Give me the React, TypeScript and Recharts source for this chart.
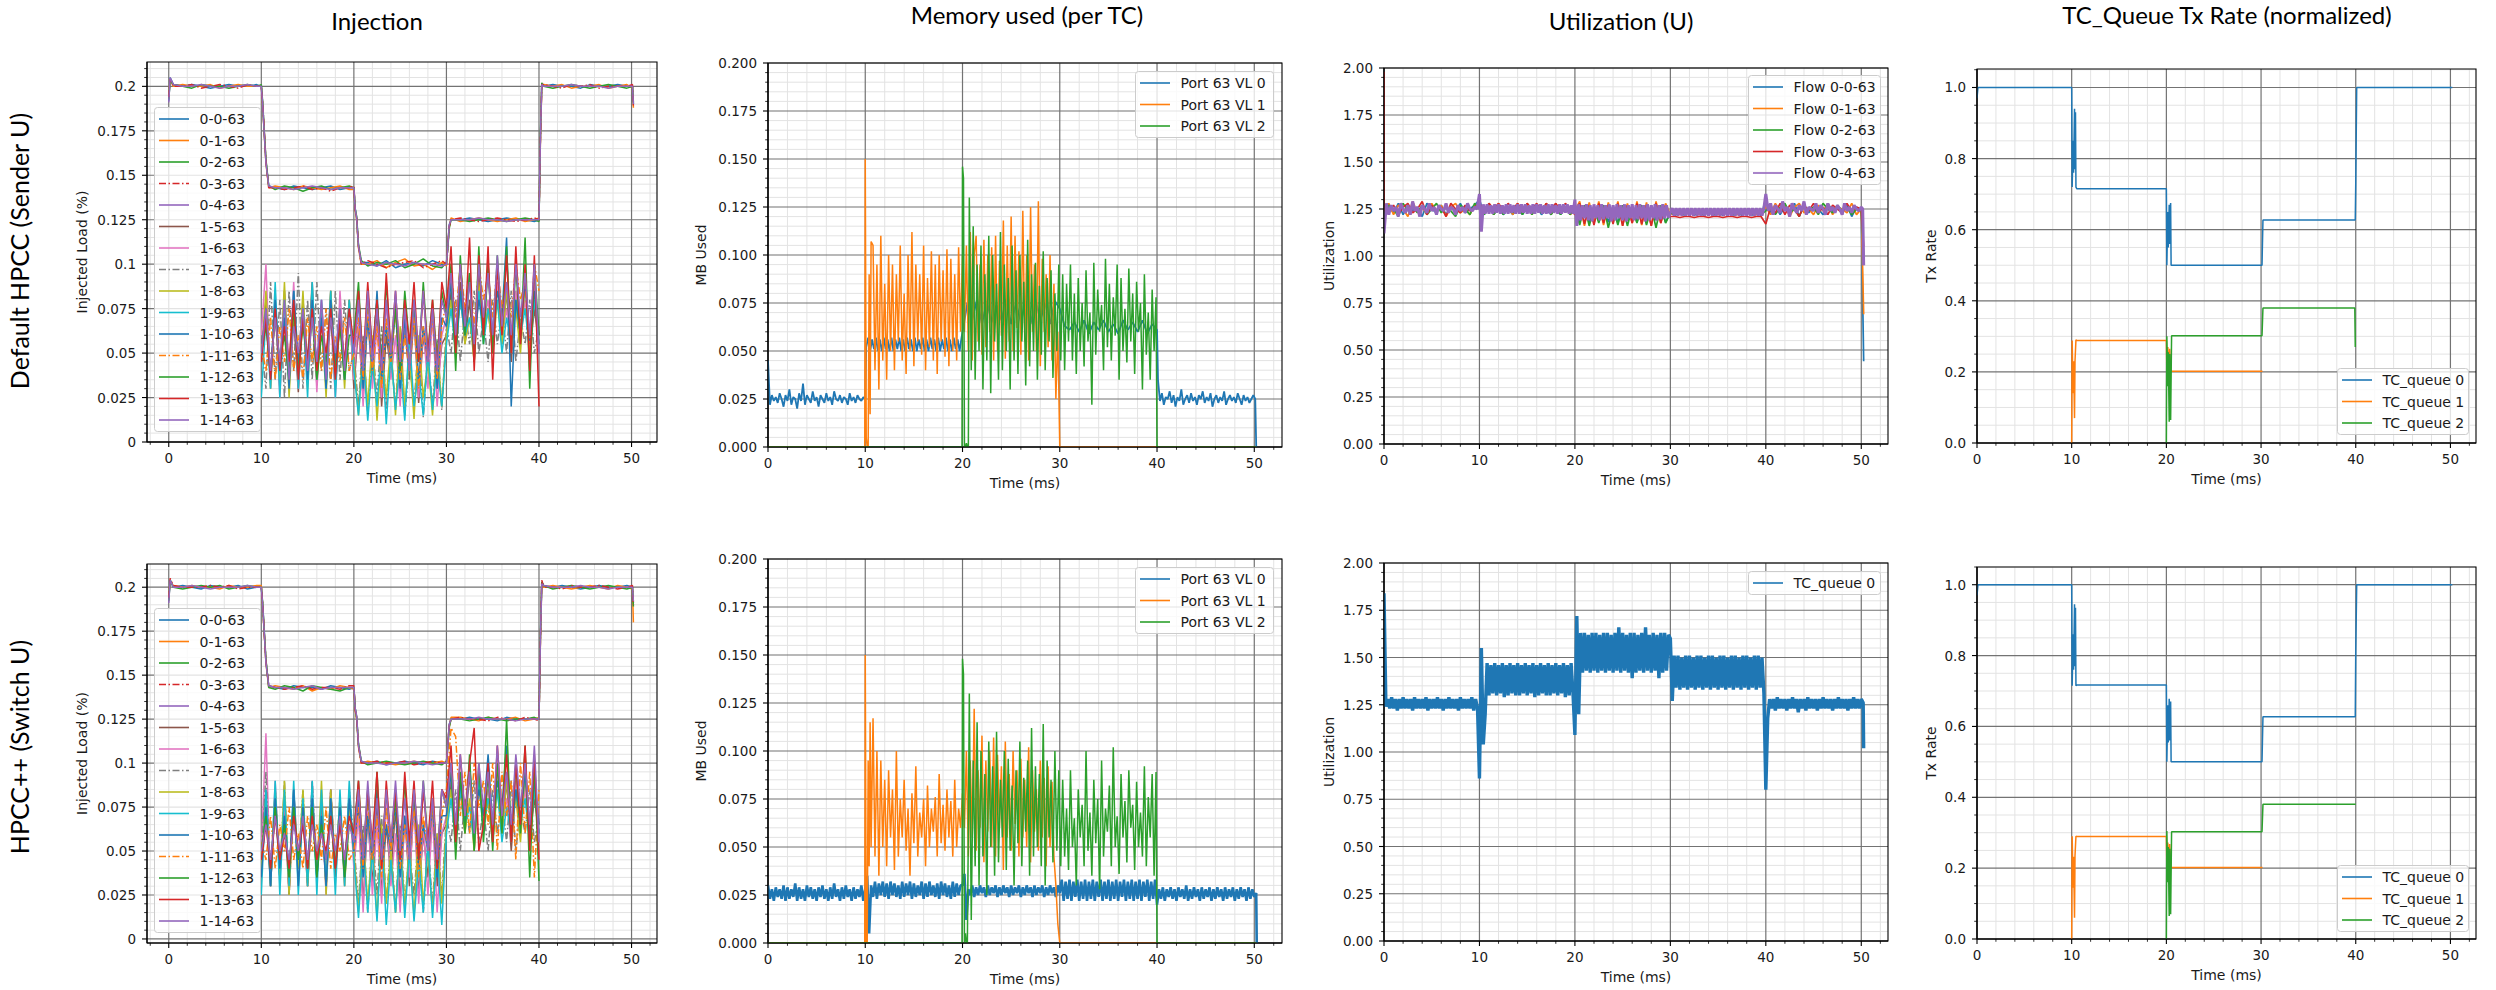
import React from 'react';
import { LineChart, Line, XAxis, YAxis, CartesianGrid, ReferenceArea, Legend } from 'recharts';

// matplotlib "tab10" colours
const C = {
  blue: '#1f77b4', orange: '#ff7f0e', green: '#2ca02c', red: '#d62728', purple: '#9467bd',
  brown: '#8c564b', pink: '#e377c2', gray: '#7f7f7f', olive: '#bcbd22', cyan: '#17becf',
};
const DASHDOT = '7 2.5 1.5 2.5';

// ---------------------------------------------------------------------------
// Injection (injected load, in units of 0.001)
// ---------------------------------------------------------------------------
const STEP_T = [0, 0.15, 0.5, 1.5, 2.5, 3.5, 4.5, 5.5, 6.5, 7.5, 8.5, 9.5, 10, 10.15, 10.3, 10.5, 10.8, 11.5, 12.5, 13.5, 14.5, 15.5, 16.5, 17.5, 18.5, 19.5, 20, 20.15, 20.3, 20.5, 20.8, 21.5, 22.5, 23.5, 24.5, 25.5, 26.5, 27.5, 28.5, 29.5, 30, 30.15, 30.3, 30.5, 31.5, 32.5, 33.5, 34.5, 35.5, 36.5, 37.5, 38.5, 39.5, 40, 40.15, 40.3, 40.5, 41.5, 42.5, 43.5, 44.5, 45.5, 46.5, 47.5, 48.5, 49.5, 50.1, 50.2];

// Sender-U run: flows 0-0 .. 0-4
const injS00 = [192,205,201,200,201,200,199,200,201,200,200,201, 200,190,176,158,144, 143,142,144,143,142,143,144,142,143, 143,131,126,110,101, 101,99,102,98,100,101,99,102,100, 100,110,122,125, 125,126,125,124,125,126,125,125,124, 125,170,201,200, 201,200,200,199,201,200,200,201,200, 200,190];
const injS01 = [195,204,200,201,200,200,201,199,200,201,200,200, 200,189,175,157,143, 144,143,142,144,143,142,143,144,142, 142,130,125,109,100, 100,102,98,101,103,99,100,97,101, 99,111,121,126, 124,125,126,125,124,125,126,124,125, 126,168,200,201, 200,201,199,200,200,201,199,200,201, 199,188];
const injS02 = [193,203,201,200,199,201,200,200,199,200,201,200, 201,191,176,159,144, 142,144,143,141,143,144,142,143,144, 143,131,127,111,102, 99,101,100,102,98,100,103,99,98, 101,109,120,125, 125,124,125,126,125,124,125,126,125, 124,172,202,200, 199,200,201,200,199,200,201,200,199, 200,191];
const injS03 = [194,204,200,200,201,199,200,201,200,199,201,200, 200,190,177,158,143, 143,142,143,144,142,143,141,143,143, 144,130,126,110,100, 102,100,98,100,101,102,98,100,102, 100,110,121,125, 126,125,124,125,126,125,124,125,126, 125,169,201,201, 200,199,201,200,201,199,200,200,200, 201,189];
const injS04 = [191,205,201,200,200,201,200,199,200,200,201,200, 200,190,175,157,144, 143,143,142,143,144,143,142,143,143, 143,131,126,110,101, 100,99,101,100,99,101,100,100,99, 100,110,122,125, 125,125,126,125,125,124,125,125,125, 125,170,201,200, 200,200,201,200,200,200,199,200,200, 200,190];
// Sender-U run: flows 1-5 .. 1-14, sampled every 0.5 ms from 10 ms to 40 ms
const injS15 = [50,80,35,75,30,85,40,70,28,80,45,90,32,75,40,85,30,70,45,80, 30,65,25,70,35,75,20,60,40,80,28,65,35,70,22,60,40,75,30,55, 60,85,50,90,55,80,45,95,60,75,50,90,55,85,45,80,60,95,50,75,55];
const injS16 = [60,100,30,85,25,80,40,90,30,75,35,85,28,80,45,70,25,85,40,75, 35,70,20,75,30,65,25,80,35,60,20,70,40,75,25,65,30,70,20,60, 70,90,55,80,60,95,50,85,65,80,55,90,60,75,50,85,60,80,55,90,60];
const injS17 = [55,30,90,35,80,25,85,40,95,30,80,35,90,40,75,30,85,35,80,40, 50,20,60,15,55,25,65,18,50,20,60,15,45,22,55,14,50,20,58,18, 65,50,80,45,75,55,85,50,70,45,80,55,75,50,85,45,70,55,80,50,65];
const injS18 = [45,85,30,80,35,90,25,75,40,85,30,80,35,70,25,85,40,75,30,80, 45,15,55,20,60,12,50,25,55,15,65,20,50,13,60,25,45,15,55,20, 60,80,50,85,55,70,45,90,60,75,50,80,55,85,60,75,50,90,55,80,60];
const injS19 = [25,70,30,90,25,80,35,85,30,75,25,90,35,80,30,85,25,75,35,80, 40,15,50,12,45,20,55,10,50,18,45,12,60,20,40,15,50,18,45,20, 55,75,50,80,60,70,50,85,55,75,60,80,50,70,55,80,60,75,50,80,55];
const injS110 = [50,75,35,80,40,70,30,85,45,75,35,80,40,70,30,80,45,70,35,75, 50,80,30,70,40,85,35,65,45,75,30,70,40,80,35,65,45,75,30,70, 65,90,50,85,60,95,55,80,65,100,60,85,70,115,20,80,60,90,55,85,60];
const injS111 = [55,40,70,35,65,45,75,40,60,35,70,45,65,40,75,35,60,45,70,40, 50,70,35,75,40,65,30,70,45,75,35,60,40,70,30,65,45,70,35,65, 80,95,70,100,75,90,65,100,80,95,70,100,75,90,70,100,80,90,50,100,85];
const injS112 = [50,65,40,70,45,60,35,75,40,65,45,70,35,60,45,70,40,65,35,60, 60,90,40,85,50,80,45,90,50,75,40,85,55,80,45,90,50,80,45,85, 70,100,40,105,60,95,45,110,55,100,50,105,60,110,50,100,55,115,30,100,60];
const injS113 = [45,70,35,75,40,65,45,80,35,70,45,75,40,65,50,75,35,70,45,75, 55,85,45,90,50,80,40,95,50,85,45,80,55,90,45,85,50,80,40,90, 75,110,50,100,65,115,40,105,60,110,35,100,60,105,50,110,55,100,40,105,20];
const injS114 = [50,75,40,70,45,80,35,65,50,75,40,70,45,80,35,70,50,75,40,70, 50,80,40,85,45,75,40,80,50,85,45,75,40,80,50,85,45,75,40,80, 70,95,60,100,65,90,55,100,70,95,60,105,65,90,60,100,70,95,60,100,50];

// Switch-U run: flows 0-0 .. 0-4
const injW00 = [193,204,200,201,200,199,201,200,200,201,199,200, 200,190,177,158,144, 143,142,144,143,143,142,144,143,142, 143,131,126,110,101, 100,101,99,100,101,100,99,101,100, 100,110,122,125, 125,126,125,125,124,126,125,125,125, 125,170,203,201, 200,201,200,199,200,201,200,200,201, 200,191];
const injW01 = [195,203,201,200,201,200,200,199,201,200,200,201, 201,189,176,157,143, 144,143,142,144,141,143,142,144,143, 142,130,125,109,100, 101,100,100,99,100,101,100,100,101, 100,111,121,126, 126,125,124,126,125,125,126,124,125, 126,168,202,200, 201,200,199,200,201,200,199,201,200, 199,180];
const injW02 = [192,204,200,199,200,201,200,201,199,200,201,200, 200,191,176,159,143, 142,144,143,141,144,143,142,141,143, 143,131,126,111,101, 99,100,101,100,99,100,101,100,99, 101,109,120,125, 125,124,125,126,125,124,125,125,126, 125,171,203,201, 199,200,201,200,199,200,201,200,199, 200,189];
const injW03 = [194,205,201,200,200,200,201,200,201,199,200,200, 200,190,175,158,144, 143,142,143,144,142,143,143,142,144, 144,130,126,110,100, 100,101,100,100,101,99,100,101,100, 100,110,121,125, 126,125,125,124,126,125,124,126,125, 124,169,204,200, 200,199,201,200,200,201,200,199,200, 201,190];
const injW04 = [191,204,200,200,201,200,199,200,200,200,201,200, 200,190,176,157,144, 143,143,142,143,144,142,143,143,143, 143,131,127,110,101, 100,100,99,100,100,101,100,99,100, 100,110,122,125, 125,125,126,125,125,125,124,125,125, 125,170,202,201, 200,200,200,201,200,200,199,200,200, 200,192];
// Switch-U run: flows 1-5 .. 1-14
const injW15 = [55,85,30,80,35,75,25,85,40,70,30,80,45,75,30,85,35,70,40,80, 45,75,20,70,30,80,25,65,35,75,20,70,30,80,25,60,35,75,30,60, 65,90,55,85,60,95,50,90,65,80,55,95,60,90,50,85,65,95,55,80,60];
const injW16 = [50,117,30,90,35,80,25,85,40,75,30,90,35,80,25,85,40,75,30,85, 40,70,15,75,25,65,20,80,30,60,15,70,35,75,20,65,25,70,15,60, 70,95,60,85,65,100,55,90,70,85,60,95,65,80,55,90,65,85,60,95,65];
const injW17 = [45,95,30,85,35,90,25,80,40,85,30,90,35,75,30,85,40,80,35,85, 55,20,65,15,60,25,70,20,55,15,65,20,50,25,60,15,55,20,60,25, 70,55,85,50,80,60,90,55,75,50,85,60,80,55,90,50,75,60,85,55,70];
const injW18 = [40,80,30,85,35,90,25,80,40,85,30,75,35,90,25,85,40,80,30,75, 50,15,60,20,55,12,65,20,50,15,60,18,55,12,65,20,50,15,60,20, 65,85,55,90,60,80,50,95,65,80,55,85,60,90,65,80,55,95,60,85,65];
const injW19 = [25,85,30,90,25,85,30,90,25,80,30,90,25,85,30,80,25,85,30,90, 45,12,55,15,50,10,60,8,45,15,55,12,50,10,45,15,55,12,50,8, 60,80,55,85,65,75,55,90,60,80,65,85,55,75,60,85,65,80,55,85,60];
const injW110 = [35,75,30,80,40,70,35,85,30,75,40,80,35,70,30,80,40,75,35,80, 50,80,35,70,45,85,40,65,50,75,35,70,45,80,40,65,50,75,35,70, 70,95,55,90,65,100,60,85,70,105,65,90,75,110,60,85,65,95,60,90,65];
const injW111 = [55,45,70,40,65,50,75,45,60,40,70,50,65,45,75,40,60,50,70,45, 50,75,40,80,45,70,35,75,50,80,40,65,45,75,35,70,50,75,40,70, 85,120,115,70,95,60,100,75,90,65,100,50,95,70,90,45,100,60,95,35,85];
const injW112 = [50,70,40,75,45,65,35,75,45,70,40,75,35,65,45,70,40,70,35,65, 60,90,45,85,50,95,45,85,55,80,45,90,50,85,45,90,55,80,45,85, 75,100,45,95,60,105,50,100,55,95,50,100,60,125,55,100,60,110,35,100,33];
const injW113 = [45,65,40,70,45,60,40,70,50,65,40,70,45,60,50,70,40,65,45,70, 60,90,45,85,55,95,40,90,55,85,45,95,55,90,45,85,55,90,40,85, 80,110,55,105,70,100,120,50,65,100,55,110,70,105,55,100,65,110,50,105,45];
const injW114 = [50,65,45,70,50,60,45,65,50,70,45,65,50,60,45,65,50,70,45,65, 55,85,45,90,50,80,45,85,55,90,50,80,45,85,55,90,50,80,45,85, 75,100,65,105,70,95,60,100,75,95,65,110,70,95,65,105,75,100,65,110,55];

// ---------------------------------------------------------------------------
// Memory used per TC (MB, in units of 0.001)
// ---------------------------------------------------------------------------
// Sender-U, VL 0
const memS0a = [45,22,27,24,26,23,28,25,21,27,24,30,22,26,25,20,28,24,33,22,27,25,23,29,24,26,21,27,25,23,28,24,26,22,29,25,24,27,23,26,25,22,28,24,26,23,27,25,24,26,25];
const memS0b = [52,57,50,56,51,57,50,56,50,57,51,56,50,57,50,56,51,57,50,56,50,57,51,56,50,57,50,56,51,57,50,56,50,57,51,56,50,57,50,56,51,57,50,56,50,57,51,56,50,57];
const memS0c = [60,75,66,77,64,76,65,74,66,77,64,75,65,76,64,77,66,75,64,76, 72,63,61,65,60,66,59,65,61,66,60,64,59,66,61,65,60,66,59,64,61];
const memS0d = [35,24,28,22,26,25,29,23,27,21,26,24,30,22,25,27,23,28,24,26,22,27,25,29,23,26,24,28,21,25,27,23,26,24,29,22,25,27,24,26,23,28,25,22,27,24,26,23,25,27,25];
// Sender-U, VL 1
const memS1b = [150,5,0,0,90,17,107];
const memS1c = [105,40,95,30,110,45,85,35,100,50,95,40,90,55,105,45,80,38,100,50,112,42,95,55,90,48,105,40,88,52,102,45,95,38,100,55,92,47,103,42,98,50,90,45,104,60,100, 60,105,50,112,45,100,110,55,95,48,108,52,100,60,104,45,110,50,97,58,118,46,105,55,120,50,110,62,102,48,123,55,100,45,125,60,95,50,128,42,98,60,90,52,100,45,85,25,60,0];
// Sender-U, VL 2
const memS2b = [146,140,0,0,2,0,0,130];
const memS2c = [40,115,35,95,50,105,30,90,45,110,28,100,55,85,35,112,40,95,50,88,30,105,45,92,38,100,55,86,32,108,42,90,50,96,35,84,48,102,40,88,55,92,36,80,50,95,45, 90,40,85,55,95,45,80,38,88,50,75,42,92,55,70,22,96,48,82,60,74,40,98,52,85,45,78,58,95,35,88,50,72,44,93,55,80,38,86,60,75,30,90,48,70,35,82,50,78];

// Switch-U, VL 0 (every 0.2 ms, 0 .. 50.2 ms)
const memW0 = [30,23,28,22,29,24,28,23,30,22,29,23,28,24,31,22,29,23,28,22,30,24,29,23,28,22,29,24,30,23,28,22,29,23,31,24,28,22,29,23,30,24,28,22,29,23,28,24,30,22,
  28,35,5,30,24,32,23,31,25,32,24,31,23,32,25,31,24,30,23,32,24,31,25,32,23,31,24,30,25,32,23,31,24,32,25,30,24,31,23,32,25,31,24,30,23,32,24,31,25,30,
  30,36,12,28,25,30,24,29,25,30,26,29,24,30,25,29,26,30,24,29,25,30,26,29,24,30,25,29,26,30,24,29,25,30,26,29,24,30,25,29,26,30,24,29,25,30,26,29,24,30,
  26,33,22,32,23,33,22,32,24,33,22,32,23,33,22,32,23,33,22,32,24,33,22,32,23,33,22,32,23,33,22,32,24,33,22,32,23,33,22,32,23,33,22,32,24,33,22,32,23,33,
  20,28,23,29,22,28,24,29,23,28,22,29,24,28,23,30,22,28,23,29,24,28,22,29,23,28,24,29,22,28,23,29,24,28,22,29,23,28,24,29,22,28,23,29,24,28,22,29,23,28,24,26];
// Switch-U, VL 1
const memW1b = [150,0,0,95,40,115,50];
const memW1c = [117,45,100,35,95,50,85,40,90,55,80,38,100,45,75,55,85,48,70,35,78,52,92,45,68,55,75,40,82,50,70,58,76,45,88,52,72,48,80,55,74,45,85,50,70,60,78, 60,100,45,95,55,122,48,90,60,108,42,95,58,100,50,107,45,98,60,92,38,105,55,88,48,100,62,90,45,96,55,85,50,102,42,90,58,80,48,95,55,86,40,92,50,84,45,30,10,0];
// Switch-U, VL 2
const memW2b = [148,140,0,5,0,0,60,130];
const memW2c = [12,95,40,115,30,100,45,88,25,105,50,92,35,110,42,85,55,100,38,96,48,82,30,90,52,105,40,86,58,95,35,112,45,92,50,88,40,114,30,95,55,85,42,100,48,90,40, 85,45,70,38,90,50,65,30,80,55,72,40,100,48,68,35,85,52,75,28,95,45,70,58,82,40,102,50,66,36,88,55,74,42,90,60,72,38,84,50,68,45,92,40,76,55,88,35,89];

// ---------------------------------------------------------------------------
// Utilization (in units of 0.01)
// ---------------------------------------------------------------------------
// Sender-U, flows 0-0 .. 0-3 every 0.5 ms (0 .. 50 ms)
const utlS0 = [120,126,123,128,122,127,124,126,121,128,125,123,127,122,126,124,128,123,125,127, 130,122,126,122,126,122,125,122,126,122,126,123,126,122,125,122,126,122,126,122, 128,118,126,117.5,127,119,126,118,127,117.5,126,119,127,118,126,117.5,127,119,126,118, 123,121.5,124,121.5,124,121.5,124,121.5,124,121.5,124,121.5,124,121.5,124,121.5,124,121.5,124,121.5, 130,123,127,122,126,124,128,121,127,123,126,125,122,128,124,126,123,127,121,126,124];
const utlS1 = [124,128,122,127,125,121,129,123,126,122,128,124,127,121,126,128,123,125,122,127, 126,123,128,122,128,123,126,122,128,123,128,122,126,123,128,122,128,123,126,122, 124,129,116,128.5,117.5,129,116.5,128.5,118,129,116,128,117.5,129,116.5,128.5,116,129,117.5,128, 122,124,122,124,122,124,122,124,122,124,122,124,122,124,122,124,122,124,122,124, 126,122,128,124,127,121,126,128,123,125,122,127,124,128,122,126,125,123,128,122,125];
const utlS2 = [123,127,125,121,128,124,126,123,127,122,125,128,123,126,124,121,127,125,122,128, 125,122,126,122,126,122,126,123,126,122,126,122,126,123,126,122,126,122,126,122, 126,116.5,127,116,126,117.5,127,115,126,116.5,127,116,126,117.5,127,116.5,126,115,127,117.5, 123,122,124,122,124,122,124,122,124,122,124,122,124,122,124,122,124,122,124,122, 124,127,122,126,128,123,125,121,127,124,126,122,128,125,123,127,124,126,122,125,124];
const utlS3 = [124,124,127,122,126,128,123,125,129,122,127,124,126,121,128,125,123,127,124,126, 128,124,128,125,128,124,128,125,128,124,128,125,128,124,128,125,128,124,128,125, 122,128,117,127,116.5,128,117.5,127,117,128,116,127,117.5,128,117,127,116,128,117.5,127, 121,121,120.5,121,121,120.5,121,121,120.5,121,121,120.5,121,121,120.5,121,121,120.5,121,121, 117,126,123,128,122,127,125,121,127,124,128,123,126,122,127,125,123,128,124,126,125];
const utlS3Start = 198;
// Sender-U, flow 0-4
const utlS4a = [112,128,122,127,124,126,121,128,125,123,127,122,129,124,126,121,127,125,123,128,124,126,122,127,125,124,128,123,126,125,122,127,124,126,123,128,125,124,126,125];
const utlS4b = [133,113,127.5,122.5,127.5,122.5,127,122.5,127.5,123, 127.5,122.5,127,122.5,127.5,122.5,127.5,123,127,122.5, 127.5,122.5,127.5,123,127.5,122.5,127,122.5,127.5,122.5, 127.5,123,127.5,122.5,127,122.5,127.5,122.5,127.5,123, 127,122.5,127.5,122.5,127.5,123,127.5,122.5,127,122.5,
  130,116,127.5,119,127,120,127.5,119,127,118.5, 127.5,120,127,119,127.5,119.5,127,120,127.5,118.5, 127,119,127.5,120,127,119,127.5,118.5,127,120, 127.5,119,127,119.5,127.5,120,127,118.5,127.5,119, 127,120,127.5,119,127,119.5,127.5,120,127,120.5,
  123,125.5,121.5,125.5,121.5,125.5,121.5,125.5,121.5,125.5, 121.5,125.5,121.5,125.5,121.5,125.5,121.5,125.5,121.5,125.5, 121.5,125.5,121.5,125.5,121.5,125.5,121.5,125.5,121.5,125.5, 121.5,125.5,121.5,125.5,121.5,125.5,121.5,125.5,121.5,125.5, 121.5,125.5,121.5,125.5,121.5,125.5,121.5,125.5,121.5,125.5];
const utlS4c = [133,124,128,122,127,125,123,129,124,126,121,128,125,123,127,124,129,122,126,125,124,128,123,127,125,122,128,124,126,123,127,125,122,128,124,126,123,127,125,124,126];
const utlSEnd = [44, 69, 100, 105, 95];

// Switch-U, TC_queue 0 every 0.2 ms (0 .. 50.2 ms)
const utlW0 = [184,124,128,123,129,123,128,122,128,123,129,123,128,123,128,122,129,123,128,123,128,123,129,122,128,123,128,123,129,123,128,122,128,123,129,123,128,123,128,122,129,123,128,123,128,123,129,122,128,123,
  86,155,104,120,147,130,146,131,147,130,146,131,147,129,146,130,147,131,146,130,147,130,146,131,147,130,146,131,147,129,146,130,147,131,146,130,147,130,146,131,147,130,146,131,147,129,146,130,147,131,
  109,172,120,163,142,163,143,162,142,163,143,163,142,162,143,163,142,163,143,162,142,163,143,166,142,163,143,162,142,163,139,163,142,162,143,163,142,166,143,162,142,163,143,162,139,163,142,163,143,162,
  160,127,151,134,151,133,150,134,151,133,151,134,150,133,151,134,151,133,150,134,151,133,151,134,150,133,151,134,151,133,150,134,151,133,151,134,150,133,151,134,151,133,150,134,151,133,151,134,150,131,
  80,118,128,123,128,122,129,123,128,123,128,122,128,123,129,123,128,121,128,123,128,122,129,123,128,123,128,122,128,123,129,123,128,123,128,122,128,123,129,123,128,123,128,122,128,123,129,123,128,123,128,126];
const utlWEnd = 102;

// ---------------------------------------------------------------------------
// TC_Queue Tx rate (normalized, in units of 0.001)
// ---------------------------------------------------------------------------
const txT0 = [0, 0.1, 10, 10.05, 10.15, 10.2, 10.3, 10.35, 10.4, 10.45, 10.55, 20, 20.05, 20.15, 20.2, 20.3, 20.35, 20.45, 20.5, 20.6, 30.1, 30.2, 39.95, 40, 40.1, 50.2];
const txS0 = [970, 1000, 1000, 720, 850, 760, 940, 770, 930, 720, 715, 715, 500, 650, 550, 670, 560, 675, 500, 500, 500, 627, 627, 730, 1000, 1000];
const txW0 = [970, 1000, 1000, 715, 860, 760, 945, 770, 935, 715, 717, 717, 500, 660, 555, 678, 560, 670, 500, 500, 500, 627, 627, 810, 1000, 1000];
const txT1 = [10, 10.05, 10.15, 10.2, 10.3, 10.35, 10.45, 10.55, 20, 20.05, 20.15, 20.25, 20.35, 20.45, 20.55, 30.15];
const txS1 = [0, 288, 140, 230, 70, 230, 290, 288, 288, 200, 270, 210, 265, 205, 202, 202];
const txW1 = [0, 290, 145, 232, 60, 235, 290, 289, 289, 200, 272, 205, 268, 203, 202, 202];
const txT2S = [20, 20.05, 20.15, 20.2, 20.3, 20.35, 20.45, 20.55, 30.1, 30.2, 39.9, 39.95];
const txS2 = [0, 300, 160, 255, 60, 250, 65, 302, 302, 380, 380, 270];
const txT2W = [20, 20.05, 20.15, 20.2, 20.3, 20.35, 20.45, 20.55, 30.1, 30.2, 40];
const txW2 = [0, 305, 160, 260, 65, 255, 70, 303, 303, 380, 380];

// ---------------------------------------------------------------------------
// series builders
// ---------------------------------------------------------------------------
type Pt = { x: number; y: number };
// readings taken at a fixed sampling interval
const run = (t0: number, dt: number, vals: number[], unit: number): Pt[] =>
  vals.map((v, i) => ({ x: Math.round((t0 + i * dt) * 1000) / 1000, y: v * unit }));
// readings with their own time stamps
const timed = (ts: number[], vals: number[], unit: number): Pt[] => ts.map((t, i) => ({ x: t, y: vals[i] * unit }));

type Series = { name: string; color: string; dash?: string; width?: number; data: Pt[] };

const FLOW_NAMES = ['0-0-63', '0-1-63', '0-2-63', '0-3-63', '0-4-63', '1-5-63', '1-6-63', '1-7-63', '1-8-63', '1-9-63', '1-10-63', '1-11-63', '1-12-63', '1-13-63', '1-14-63'];
const FLOW_COLORS = [C.blue, C.orange, C.green, C.red, C.purple, C.brown, C.pink, C.gray, C.olive, C.cyan, C.blue, C.orange, C.green, C.red, C.purple];
const FLOW_DASH: (string | undefined)[] = [undefined, undefined, undefined, DASHDOT, undefined, undefined, undefined, DASHDOT, undefined, undefined, undefined, DASHDOT, undefined, undefined, undefined];

const injSeries = (steps: number[][], noisy: number[][]): Series[] => [
  ...steps.map((v, i) => ({ name: FLOW_NAMES[i], color: FLOW_COLORS[i], dash: FLOW_DASH[i], data: timed(STEP_T, v, 0.001) })),
  ...noisy.map((v, j) => ({ name: FLOW_NAMES[j + 5], color: FLOW_COLORS[j + 5], dash: FLOW_DASH[j + 5], data: run(10, 0.5, v, 0.001) })),
];

const injSender = injSeries([injS00, injS01, injS02, injS03, injS04], [injS15, injS16, injS17, injS18, injS19, injS110, injS111, injS112, injS113, injS114]);
const injSwitch = injSeries([injW00, injW01, injW02, injW03, injW04], [injW15, injW16, injW17, injW18, injW19, injW110, injW111, injW112, injW113, injW114]);

const MB = 0.001;
const memSender: Series[] = [
  { name: 'Port 63 VL 0', color: C.blue, width: 1.8, data: [...run(0, 0.2, memS0a, MB), ...run(10.1, 0.2, memS0b, MB), ...run(20, 0.5, memS0c, MB), ...run(40.1, 0.2, memS0d, MB), ...timed([50.2], [0], MB)] },
  { name: 'Port 63 VL 1', color: C.orange, data: [...timed([0, 9.95], [0, 0], MB), ...run(10, 0.1, memS1b, MB), ...run(10.8, 0.2, memS1c, MB), ...timed([30.1, 50.2], [0, 0], MB)] },
  { name: 'Port 63 VL 2', color: C.green, data: [...timed([0, 19.95], [0, 0], MB), ...run(20, 0.1, memS2b, MB), ...run(20.9, 0.2, memS2c, MB), ...timed([40, 50.2], [0, 0], MB)] },
];
const memSwitch: Series[] = [
  { name: 'Port 63 VL 0', color: C.blue, width: 2.6, data: [...run(0, 0.2, memW0, MB), ...timed([50.25], [0], MB)] },
  { name: 'Port 63 VL 1', color: C.orange, data: [...timed([0, 9.95], [0, 0], MB), ...run(10, 0.1, memW1b, MB), ...run(10.8, 0.2, memW1c, MB), ...timed([30.1, 50.2], [0, 0], MB)] },
  { name: 'Port 63 VL 2', color: C.green, data: [...timed([0, 19.95], [0, 0], MB), ...run(20, 0.1, memW2b, MB), ...run(20.9, 0.2, memW2c, MB), ...timed([40, 50.2], [0, 0], MB)] },
];

const U = 0.01;
const utlSender: Series[] = [
  ...[utlS0, utlS1, utlS2, utlS3].map((v, i) => ({
    name: 'Flow ' + FLOW_NAMES[i], color: FLOW_COLORS[i], width: 1.7,
    data: [...(i === 3 ? timed([0], [utlS3Start], U) : []), ...run(0, 0.5, v, U), ...timed([50.25], [utlSEnd[i]], U)],
  })),
  { name: 'Flow 0-4-63', color: C.purple, width: 3, data: [...run(0, 0.25, utlS4a, U), ...run(10, 0.2, utlS4b, U), ...run(40, 0.25, utlS4c, U), ...timed([50.15, 50.25], [125, utlSEnd[4]], U)] },
];
const utlSwitch: Series[] = [
  { name: 'TC_queue 0', color: C.blue, width: 3.4, data: [...run(0, 0.2, utlW0, U), ...timed([50.25], [utlWEnd], U)] },
];

const TX = 0.001;
const txSender: Series[] = [
  { name: 'TC_queue 0', color: C.blue, data: timed(txT0, txS0, TX) },
  { name: 'TC_queue 1', color: C.orange, data: timed(txT1, txS1, TX) },
  { name: 'TC_queue 2', color: C.green, data: timed(txT2S, txS2, TX) },
];
const txSwitch: Series[] = [
  { name: 'TC_queue 0', color: C.blue, data: timed(txT0, txW0, TX) },
  { name: 'TC_queue 1', color: C.orange, data: timed(txT1, txW1, TX) },
  { name: 'TC_queue 2', color: C.green, data: timed(txT2W, txW2, TX) },
];

// ---------------------------------------------------------------------------
// panel drawing
// ---------------------------------------------------------------------------
const FONT = 'DejaVu Sans, Verdana, sans-serif';
const INK = '#1a1a1a';
const PADL = 120, PADT = 14, PADR = 14, PADB = 64;

const seq = (a: number, b: number, s: number) => {
  const out: number[] = [];
  for (let i = 0; a + i * s <= b + 1e-9; i++) out.push(+(a + i * s).toFixed(6));
  return out;
};
const isOn = (v: number, step: number) => Math.abs(v / step - Math.round(v / step)) < 1e-6;

interface PanelSpec {
  box: [number, number, number, number];
  xDomain: [number, number];
  yDomain: [number, number];
  yMajor: number; yMinor: number; yTop: number;
  yFmt: (v: number) => string;
  yTitle: string; yTitleGap: number;
  series: Series[];
  legend: { x: number; y: number; w: number };
}

const fmtInj = (v: number) => String(parseFloat(v.toFixed(3)));
const fmtMem = (v: number) => v.toFixed(3);
const fmtUtl = (v: number) => v.toFixed(2);
const fmtTx = (v: number) => v.toFixed(1);

function LegendBox({ items, w }: { items: Series[]; w: number }) {
  const h = 24 + (items.length - 1) * 21.5;
  return (
    <svg width={w} height={h} style={{ display: 'block', overflow: 'visible' }}>
      <rect x={0.5} y={0.5} width={w - 1} height={h - 1} rx={3} fill="#ffffff" fillOpacity={0.8} stroke="#cccccc" strokeWidth={1} />
      {items.map((s, i) => {
        const cy = 12 + i * 21.5;
        return (
          <g key={i}>
            <line x1={5} x2={35} y1={cy} y2={cy} stroke={s.color} strokeWidth={1.6} strokeDasharray={s.dash} />
            <text x={45.5} y={cy} dominantBaseline="central" fontFamily={FONT} fontSize={14} fill={INK}>{s.name}</text>
          </g>
        );
      })}
    </svg>
  );
}

function Panel({ spec }: { spec: PanelSpec }) {
  const [l, t, r, b] = spec.box;
  const W = r - l + PADL + PADR;
  const H = b - t + PADT + PADB;
  const ox = l - PADL;
  const oy = t - PADT;
  const xs = seq(Math.ceil(spec.xDomain[0] / 2 - 1e-9) * 2, spec.xDomain[1], 2);
  const xMajor = xs.filter((v) => isOn(v, 10));
  const xMinor = xs.filter((v) => !isOn(v, 10));
  const ys = seq(Math.ceil(spec.yDomain[0] / spec.yMinor - 1e-9) * spec.yMinor, spec.yDomain[1], spec.yMinor);
  const yMajor = ys.filter((v) => isOn(v, spec.yMajor) && v <= spec.yTop + 1e-9);
  const yMinor = ys.filter((v) => !yMajor.includes(v));
  const lg = spec.legend;
  const lgH = 24 + (spec.series.length - 1) * 21.5;

  const xTick = (p: any) => {
    const v = Number(p.payload?.value);
    const major = xMajor.some((m) => Math.abs(m - v) < 1e-9);
    return (
      <g>
        <line x1={p.x} x2={p.x} y1={p.y} y2={p.y + (major ? 5 : 2.8)} stroke="#000" strokeWidth={major ? 1.1 : 0.8} />
        {major ? (
          <text x={p.x} y={p.y + 16} textAnchor="middle" dominantBaseline="central" fontFamily={FONT} fontSize={13.5} fill={INK}>{String(v)}</text>
        ) : null}
      </g>
    );
  };
  const yTick = (p: any) => {
    const v = Number(p.payload?.value);
    const major = yMajor.some((m) => Math.abs(m - v) < 1e-9);
    return (
      <g>
        <line x1={p.x - (major ? 5 : 2.8)} x2={p.x} y1={p.y} y2={p.y} stroke="#000" strokeWidth={major ? 1.1 : 0.8} />
        {major ? (
          <text x={p.x - 11} y={p.y} textAnchor="end" dominantBaseline="central" fontFamily={FONT} fontSize={13.5} fill={INK}>{spec.yFmt(v)}</text>
        ) : null}
      </g>
    );
  };
  const xTitle = (p: any) => {
    const vb = p.viewBox || {};
    return (
      <text x={vb.x + vb.width / 2} y={vb.y + 41} textAnchor="middle" fontFamily={FONT} fontSize={14} fill={INK}>Time (ms)</text>
    );
  };
  const yTitle = (p: any) => {
    const vb = p.viewBox || {};
    const cx = vb.x + vb.width - spec.yTitleGap;
    const cy = vb.y + vb.height / 2;
    return (
      <text x={cx} y={cy} transform={`rotate(-90 ${cx} ${cy})`} textAnchor="middle" dominantBaseline="central" fontFamily={FONT} fontSize={14} fill={INK}>{spec.yTitle}</text>
    );
  };

  return (
    <div style={{ position: 'absolute', left: ox, top: oy, width: W, height: H }}>
      <LineChart width={W} height={H} margin={{ top: PADT, right: PADR, bottom: 0, left: 0 }}>
        <CartesianGrid horizontalValues={yMinor} verticalValues={xMinor} stroke="#e3e3e3" strokeWidth={1} />
        <CartesianGrid horizontalValues={yMajor} verticalValues={xMajor} stroke="#737373" strokeWidth={1.2} />
        <XAxis
          type="number" dataKey="x" domain={spec.xDomain} allowDataOverflow ticks={xs} interval={0}
          tick={xTick} tickLine={false} tickSize={0} tickMargin={0} height={PADB}
          axisLine={{ stroke: '#000', strokeWidth: 1.1 }} label={xTitle}
        />
        <YAxis
          type="number" domain={spec.yDomain} allowDataOverflow ticks={ys} interval={0}
          tick={yTick} tickLine={false} tickSize={0} tickMargin={0} width={PADL}
          axisLine={{ stroke: '#000', strokeWidth: 1.1 }} label={yTitle}
        />
        {spec.series.map((s, i) => (
          <Line
            key={i} data={s.data} dataKey="y" name={s.name} type="linear" stroke={s.color} strokeWidth={s.width ?? 1.5}
            strokeDasharray={s.dash} strokeLinejoin="bevel" dot={false} activeDot={false} isAnimationActive={false}
          />
        ))}
        <ReferenceArea
          x1={spec.xDomain[0]} x2={spec.xDomain[1]} y1={spec.yDomain[0]} y2={spec.yDomain[1]}
          fill="none" fillOpacity={0} stroke="#000" strokeWidth={1.1} ifOverflow="visible"
        />
        <Legend
          layout="horizontal" verticalAlign="middle" align="center"
          wrapperStyle={{ left: lg.x - ox, top: lg.y - oy, width: lg.w, height: lgH, right: 'auto', bottom: 'auto' }}
          content={() => <LegendBox items={spec.series} w={lg.w} />}
        />
      </LineChart>
    </div>
  );
}

const INJ_X: [number, number] = [-2.35, 52.75];

const PANELS: PanelSpec[] = [
  { box: [147, 62, 657, 442], xDomain: INJ_X, yDomain: [0, 0.2137], yMajor: 0.025, yMinor: 0.005, yTop: 0.2, yFmt: fmtInj, yTitle: 'Injected Load (%)', yTitleGap: 65, series: injSender, legend: { x: 154, y: 107, w: 107 } },
  { box: [768, 63, 1282, 447], xDomain: [0, 52.85], yDomain: [0, 0.2], yMajor: 0.025, yMinor: 0.005, yTop: 0.2, yFmt: fmtMem, yTitle: 'MB Used', yTitleGap: 67, series: memSender, legend: { x: 1135, y: 71, w: 139 } },
  { box: [1384, 68, 1888, 444], xDomain: [0, 52.8], yDomain: [0, 2], yMajor: 0.25, yMinor: 0.05, yTop: 2, yFmt: fmtUtl, yTitle: 'Utilization', yTitleGap: 55, series: utlSender, legend: { x: 1748, y: 75, w: 133 } },
  { box: [1977, 69, 2476, 443], xDomain: [0, 52.7], yDomain: [0, 1.052], yMajor: 0.2, yMinor: 0.05, yTop: 1, yFmt: fmtTx, yTitle: 'Tx Rate', yTitleGap: 46, series: txSender, legend: { x: 2337, y: 368, w: 132 } },
  { box: [147, 564, 657, 943], xDomain: INJ_X, yDomain: [-0.0023, 0.2132], yMajor: 0.025, yMinor: 0.005, yTop: 0.2, yFmt: fmtInj, yTitle: 'Injected Load (%)', yTitleGap: 65, series: injSwitch, legend: { x: 154, y: 608, w: 107 } },
  { box: [768, 559, 1282, 943], xDomain: [0, 52.85], yDomain: [0, 0.2], yMajor: 0.025, yMinor: 0.005, yTop: 0.2, yFmt: fmtMem, yTitle: 'MB Used', yTitleGap: 67, series: memSwitch, legend: { x: 1135, y: 567, w: 139 } },
  { box: [1384, 563, 1888, 941], xDomain: [0, 52.8], yDomain: [0, 2], yMajor: 0.25, yMinor: 0.05, yTop: 2, yFmt: fmtUtl, yTitle: 'Utilization', yTitleGap: 55, series: utlSwitch, legend: { x: 1748, y: 571, w: 133 } },
  { box: [1977, 567, 2476, 939], xDomain: [0, 52.7], yDomain: [0, 1.05], yMajor: 0.2, yMinor: 0.05, yTop: 1, yFmt: fmtTx, yTitle: 'Tx Rate', yTitleGap: 46, series: txSwitch, legend: { x: 2337, y: 865, w: 132 } },
];

const COLUMN_TITLES = [
  { text: 'Injection', cx: 377, cy: 23 },
  { text: 'Memory used (per TC)', cx: 1027, cy: 17 },
  { text: 'Utilization (U)', cx: 1621, cy: 23 },
  { text: 'TC_Queue Tx Rate (normalized)', cx: 2227, cy: 17 },
];
const ROW_TITLES = [
  { text: 'Default HPCC (Sender U)', cx: 19, cy: 251 },
  { text: 'HPCC++ (Switch U)', cx: 19, cy: 747 },
];

export default function App() {
  return (
    <div style={{ position: 'absolute', left: 0, top: 0, width: 2496, height: 990, background: '#ffffff', overflow: 'hidden' }}>
      {COLUMN_TITLES.map((c, i) => (
        <div key={i} style={{ position: 'absolute', left: c.cx - 300, top: c.cy - 17, width: 600, height: 30, lineHeight: '30px', textAlign: 'center', fontFamily: 'Lato, sans-serif', fontSize: 24, color: '#000', whiteSpace: 'nowrap' }}>{c.text}</div>
      ))}
      {ROW_TITLES.map((c, i) => (
        <div key={i} style={{ position: 'absolute', left: c.cx - 200, top: c.cy - 15, width: 400, height: 30, lineHeight: '30px', textAlign: 'center', fontFamily: 'Lato, sans-serif', fontSize: 25, color: '#000', whiteSpace: 'nowrap', transform: 'rotate(-90deg)' }}>{c.text}</div>
      ))}
      {PANELS.map((p, i) => (
        <Panel key={i} spec={p} />
      ))}
    </div>
  );
}
